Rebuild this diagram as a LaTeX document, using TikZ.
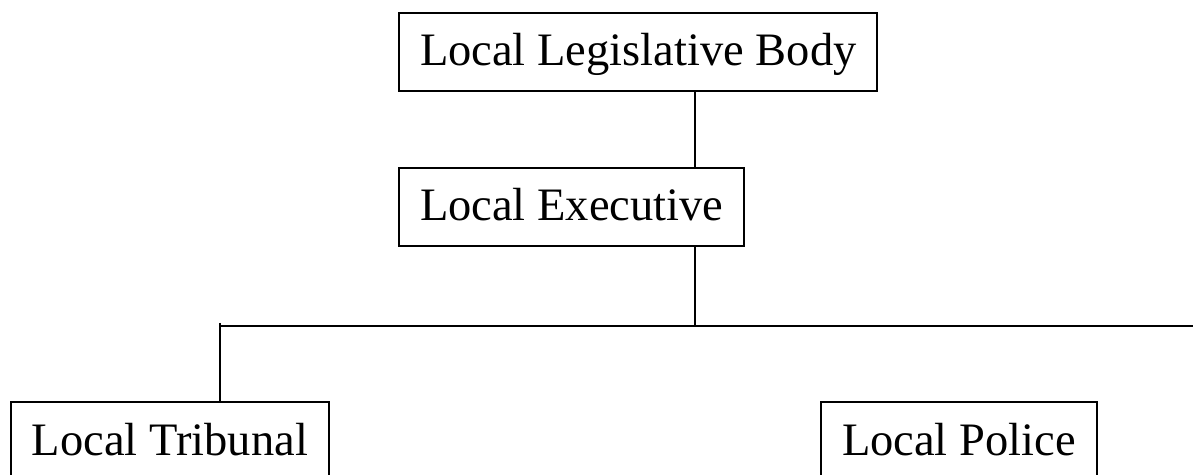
\documentclass[tikz,border=0pt]{standalone}
\usepackage{fontspec}
\setmainfont{Liberation Serif}
\usepackage{tikz}

\begin{document}
\begin{tikzpicture}[x=0.5pt,y=-0.5pt,line width=1pt]
	\useasboundingbox (0,0) rectangle (1193,475);

		\begin{scope}[every node/.style={draw,rectangle,anchor=north west,
				inner xsep=10.5pt,inner ysep=0pt,text height=26.5pt,text depth=12.5pt,
				font=\fontsize{23.25}{28}\selectfont}]
			\node (legis) at (398,12) {Local Legislative Body};
			\node (exec) at (398,167) {Local Executive};
			\node (tribunal) at (10,401) {Local Tribunal};
			\node (police) at (820,401) {Local Police};
		\end{scope}

	\coordinate (split) at (695,326);
	\coordinate (corner) at (220,326);
	\coordinate (rightend) at (1193,326);

	\draw (legis.south -| split) -- (exec.north -| split);
	\draw (exec.south -| split) -- (split);
	\draw (corner) -- (rightend);
	\draw ([yshift=1.5pt]corner) -- (tribunal.north -| corner);
\end{tikzpicture}
\end{document}
